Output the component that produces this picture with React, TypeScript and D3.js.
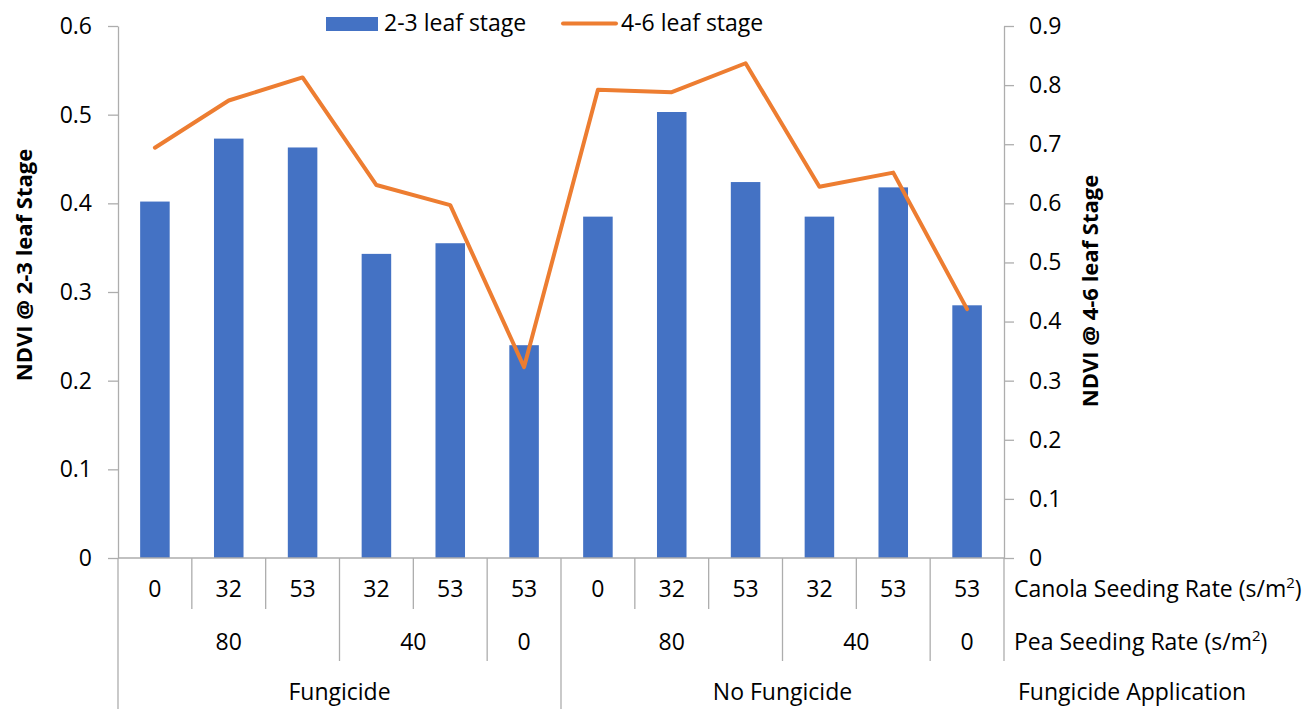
import React from 'react'
import * as d3 from 'd3'

const canolaRates = ['0', '32', '53', '32', '53', '53', '0', '32', '53', '32', '53', '53']
const peaRates = ['80', '40', '0', '80', '40', '0']
const peaSpans = [3, 2, 1, 3, 2, 1]
const fungicideLabels = ['Fungicide', 'No Fungicide']
const fungicideSpans = [6, 6]

// NDVI @ 2-3 leaf stage (bars, left axis)
const ndvi23 = [0.402, 0.473, 0.463, 0.343, 0.355, 0.240, 0.385, 0.503, 0.424, 0.385, 0.418, 0.285]
// NDVI @ 4-6 leaf stage (line, right axis)
const ndvi46 = [0.694, 0.774, 0.813, 0.631, 0.597, 0.323, 0.792, 0.788, 0.837, 0.628, 0.652, 0.421]

const leftTicks = [0, 0.1, 0.2, 0.3, 0.4, 0.5, 0.6]
const rightTicks = [0, 0.1, 0.2, 0.3, 0.4, 0.5, 0.6, 0.7, 0.8, 0.9]
const seriesNames = ['2-3 leaf stage', '4-6 leaf stage']

export default class App extends React.Component {
    svgRef = React.createRef<SVGSVGElement>()

    drawChart() {
        const width = 1316, height = 709
        const plot = { left: 118, right: 1004, top: 26, bottom: 558 }
        const font = "'Open Sans', sans-serif"
        const axisColor = '#ADADAD'
        const blue = '#4472C4', orange = '#ED7D31'

        const svg = d3.select(this.svgRef.current)
        svg.selectAll('*').remove()
        svg.attr('width', width).attr('height', height)
            .style('font-family', font)

        const idx = canolaRates.map((_, i) => String(i))
        const x = d3.scaleBand()
            .domain(idx)
            .range([plot.left, plot.right])
            .paddingInner(0.6)
            .paddingOuter(0.3)
        const xEdge = d3.scaleLinear().domain([0, canolaRates.length]).range([plot.left, plot.right])
        const yL = d3.scaleLinear().domain([0, 0.6]).range([plot.bottom, plot.top])
        const yR = d3.scaleLinear().domain([0, 0.9]).range([plot.bottom, plot.top])

        // bars
        svg.append('g').selectAll('rect')
            .data(ndvi23)
            .enter()
            .append('rect')
            .attr('x', (d, i) => x(String(i)) as number)
            .attr('y', d => yL(d))
            .attr('width', x.bandwidth())
            .attr('height', d => yL(0) - yL(d))
            .attr('fill', blue)

        // left axis
        const leftAxis = d3.axisLeft(yL)
            .tickValues(leftTicks)
            .tickFormat(d => String(d))
            .tickSize(10)
            .tickSizeOuter(0)
            .tickPadding(16)
        const gl = svg.append('g')
            .attr('transform', 'translate(' + plot.left + ',0)')
            .call(leftAxis)
        gl.selectAll('path,line').attr('stroke', axisColor).attr('stroke-width', 1.3)
        gl.selectAll('text').attr('font-size', 23).attr('font-family', font).attr('fill', '#000')

        // right axis
        const rightAxis = d3.axisRight(yR)
            .tickValues(rightTicks)
            .tickFormat(d => String(d))
            .tickSize(10)
            .tickSizeOuter(0)
            .tickPadding(15)
        const gr = svg.append('g')
            .attr('transform', 'translate(' + plot.right + ',0)')
            .call(rightAxis)
        gr.selectAll('path,line').attr('stroke', axisColor).attr('stroke-width', 1.3)
        gr.selectAll('text').attr('font-size', 23).attr('font-family', font).attr('fill', '#000')

        // category axis baseline
        svg.append('line')
            .attr('x1', plot.left).attr('x2', plot.right)
            .attr('y1', yL(0)).attr('y2', yL(0))
            .attr('stroke', axisColor).attr('stroke-width', 1.3)

        // multi-level category separators
        const rowEnd = [609, 661, 709]
        const peaStarts = d3.cumsum([0].concat(peaSpans))
        const fungStarts = d3.cumsum([0].concat(fungicideSpans))
        const edges = d3.range(canolaRates.length + 1).map(i => {
            let y2 = rowEnd[0]
            if (peaStarts.includes(i)) y2 = rowEnd[1]
            if (fungStarts.includes(i) && i < canolaRates.length) y2 = rowEnd[2]
            return { i, y2 }
        })
        svg.append('g').selectAll('line')
            .data(edges)
            .enter()
            .append('line')
            .attr('x1', d => xEdge(d.i)).attr('x2', d => xEdge(d.i))
            .attr('y1', yL(0)).attr('y2', d => d.y2)
            .attr('stroke', axisColor).attr('stroke-width', 1.3)

        const labelRows = [597, 650, 700]
        svg.append('g').selectAll('text')
            .data(canolaRates)
            .enter()
            .append('text')
            .attr('x', (d, i) => xEdge(i + 0.5))
            .attr('y', labelRows[0])
            .attr('text-anchor', 'middle')
            .attr('font-size', 23)
            .text(d => d)

        svg.append('g').selectAll('text')
            .data(peaRates)
            .enter()
            .append('text')
            .attr('x', (d, i) => xEdge(peaStarts[i] + peaSpans[i] / 2))
            .attr('y', labelRows[1])
            .attr('text-anchor', 'middle')
            .attr('font-size', 23)
            .text(d => d)

        svg.append('g').selectAll('text')
            .data(fungicideLabels)
            .enter()
            .append('text')
            .attr('x', (d, i) => xEdge(fungStarts[i] + fungicideSpans[i] / 2))
            .attr('y', labelRows[2])
            .attr('text-anchor', 'middle')
            .attr('font-size', 23)
            .text(d => d)

        // row titles on the right
        const rowTitle = (label: string, y: number, xPos: number, sup: boolean) => {
            const t = svg.append('text')
                .attr('x', xPos).attr('y', y)
                .attr('font-size', 23)
            t.append('tspan').text(label)
            if (sup) {
                t.append('tspan').attr('font-size', 15).attr('dy', -9).text('2')
                t.append('tspan').attr('dy', 9).text(')')
            }
        }
        rowTitle('Canola Seeding Rate (s/m', labelRows[0], 1014, true)
        rowTitle('Pea Seeding Rate (s/m', labelRows[1], 1014, true)
        rowTitle('Fungicide Application', labelRows[2], 1018, false)

        // line series
        const line = d3.line<number>()
            .x((d, i) => (x(String(i)) as number) + x.bandwidth() / 2)
            .y(d => yR(d))
        svg.append('path')
            .datum(ndvi46)
            .attr('d', line)
            .attr('fill', 'none')
            .attr('stroke', orange)
            .attr('stroke-width', 4)
            .attr('stroke-linejoin', 'round')
            .attr('stroke-linecap', 'round')

        // axis titles
        svg.append('text')
            .attr('transform', 'translate(32,265) rotate(-90)')
            .attr('text-anchor', 'middle')
            .attr('font-size', 22)
            .attr('font-weight', 'bold')
            .text('NDVI @ 2-3 leaf Stage')
        svg.append('text')
            .attr('transform', 'translate(1098,291) rotate(-90)')
            .attr('text-anchor', 'middle')
            .attr('font-size', 22)
            .attr('font-weight', 'bold')
            .text('NDVI @ 4-6 leaf Stage')

        // legend
        const lg = svg.append('g')
        lg.append('rect')
            .attr('x', 326).attr('y', 17).attr('width', 52).attr('height', 14)
            .attr('fill', blue)
        lg.append('text')
            .attr('x', 384).attr('y', 31)
            .attr('font-size', 23)
            .text(seriesNames[0])
        lg.append('line')
            .attr('x1', 563).attr('x2', 616).attr('y1', 23.5).attr('y2', 23.5)
            .attr('stroke', orange).attr('stroke-width', 4).attr('stroke-linecap', 'round')
        lg.append('text')
            .attr('x', 621).attr('y', 31)
            .attr('font-size', 23)
            .text(seriesNames[1])
    }

    componentDidMount() {
        this.drawChart()
    }

    render() {
        return <div style={{ position: 'absolute', left: 0, top: 0, background: '#fff' }}>
            <svg ref={this.svgRef} style={{ display: 'block' }}></svg>
        </div>
    }
}
